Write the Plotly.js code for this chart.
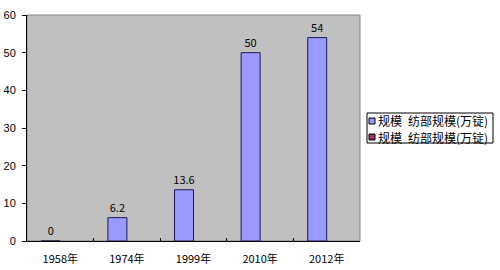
<!DOCTYPE html>
<html><head><meta charset="utf-8">
<script src="https://cdn.plot.ly/plotly-3.0.1.min.js"></script>
<style>html,body{margin:0;padding:0;background:#fff;}#chart{width:500px;height:270px;}</style>
</head><body><div id="chart"></div>
<script>
const categories = ['1958年', '1974年', '1999年', '2010年', '2012年'];
const series1Values = [0, 6.2, 13.6, 50, 54];
const series2Values = [null, null, null, null, null];
const seriesNames = ['规模\u2002纺部规模(万锭)', '规模\u2002纺部规模(万锭)'];
const seriesColors = ['#9999FF', '#993366'];
const yTickValues = [0, 10, 20, 30, 40, 50, 60];

const W = 500, H = 270, L = 27, R = 140, T = 15, B = 29;
const pw = W - L - R, ph = H - T - B;
const px = x => (x - L) / pw;
const py = y => (H - B - y) / ph;

const traces = [
  {type: 'bar', x: categories, y: series1Values, name: seriesNames[0],
   marker: {color: seriesColors[0], line: {color: '#1a1a50', width: 1}},
   text: series1Values.map(v => String(v)), textposition: 'outside', cliponaxis: false, constraintext: 'none',
   textfont: {family: 'Noto Sans CJK SC, sans-serif', size: 11, color: '#000'}},
  {type: 'bar', x: categories, y: series2Values, name: seriesNames[1],
   marker: {color: seriesColors[1], line: {color: '#1a1a50', width: 1}}}
];

const shapes = [
  {type: 'rect', xref: 'paper', yref: 'paper', x0: 0, x1: 1, y0: 0, y1: 1,
   line: {color: '#808080', width: 1}, layer: 'below'},
  {type: 'rect', xref: 'paper', yref: 'paper', x0: px(367), x1: px(493), y0: py(113), y1: py(143),
   line: {color: '#000', width: 1}, fillcolor: '#fff'}
];
const annotations = [];
seriesNames.forEach((n, i) => {
  const cy = 121 + i * 16;
  shapes.push({type: 'rect', xref: 'paper', yref: 'paper', x0: px(369), x1: px(375), y0: py(cy - 3), y1: py(cy + 3),
    line: {color: '#000', width: 1}, fillcolor: seriesColors[i]});
  annotations.push({xref: 'paper', yref: 'paper', x: px(376), y: py(cy), xanchor: 'left', yanchor: 'middle',
    text: n, showarrow: false, font: {family: 'Noto Sans CJK SC, sans-serif', size: 12, color: '#000'}});
});

const layout = {
  width: W, height: H, margin: {l: L, r: R, t: T, b: B, pad: 0},
  paper_bgcolor: '#fff', plot_bgcolor: '#C0C0C0',
  showlegend: false, bargap: 0.43, bargroupgap: 0, barmode: 'group',
  xaxis: {type: 'category', tickson: 'boundaries', ticks: 'inside', ticklen: 3, tickcolor: '#000',
    showline: true, linecolor: '#000', linewidth: 1, showgrid: false, zeroline: false, ticklabelstandoff: 8,
    tickfont: {family: 'Noto Sans CJK SC, sans-serif', size: 11, color: '#000'}},
  yaxis: {range: [0, 60], tickvals: yTickValues, ticks: 'outside', ticklen: 4, tickcolor: '#000',
    showline: true, linecolor: '#000', linewidth: 1, showgrid: false, zeroline: false, ticklabelstandoff: 4,
    tickfont: {family: 'Liberation Sans, Arial, sans-serif', size: 11, color: '#000'}},
  shapes: shapes, annotations: annotations
};
Plotly.newPlot('chart', traces, layout, {staticPlot: true, displayModeBar: false});
</script></body></html>
